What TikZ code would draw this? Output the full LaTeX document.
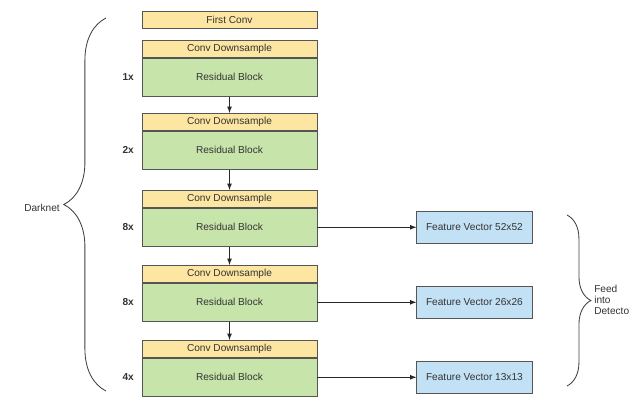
\documentclass[tikz,border=0pt]{standalone}
\usepackage{fontspec}
\setmainfont{Liberation Sans}
\usepackage{tikz}
\usetikzlibrary{positioning,decorations.pathreplacing}

\definecolor{cdyellow}{HTML}{FDE6A2}
\definecolor{rbgreen}{HTML}{C7E4AA}
\definecolor{fvblue}{HTML}{C2E1F5}
\definecolor{edge}{HTML}{555555}

\tikzset{
  box/.style={draw=edge, line width=0.6pt, minimum width=4.375cm, inner sep=0pt,
    font=\fontsize{7.2}{9}\selectfont, text=black!80},
  cdbox/.style={box, fill=cdyellow, minimum height=0.425cm},
  rbbox/.style={box, fill=rbgreen, minimum height=0.95cm},
  fvbox/.style={box, fill=fvblue, minimum width=2.875cm, minimum height=0.8cm},
  times/.style={font=\fontsize{7.2}{9}\selectfont\bfseries, text=black!80},
  plain/.style={font=\fontsize{7.2}{8}\selectfont, text=black!80, align=left, inner sep=0pt},
  flow/.style={->, >=latex, line width=0.6pt, draw=black!85},
  bracket/.style={decorate, line width=0.6pt, draw=black!75}
}

\begin{document}
\begin{tikzpicture}[x=0.025cm, y=-0.025cm]
	\useasboundingbox[fill=white] (0,0) rectangle (630,396);

            \node[cdbox, anchor=north] (first) at (229.5,11) {First Conv};

            \foreach \i/\y/\n in {1/40/1x, 2/113/2x, 3/190/8x, 4/265/8x, 5/340/4x}{
              \node[cdbox, anchor=north] (cd\i) at (229.5,\y) {Conv Downsample};
              \node[rbbox, below=0pt of cd\i] (rb\i) {Residual Block};
              \node[times, left=2pt of rb\i] (n\i) {\n};
            }

            \foreach \i/\j in {1/2,2/3,3/4,4/5}{
              \draw[flow] (rb\i) -- (cd\j);
            }

            \foreach \i/\s in {3/52x52, 4/26x26, 5/13x13}{
              \node[fvbox, right=2.475cm of rb\i] (fv\i) {Feature Vector \s};
              \draw[flow] (rb\i) -- (fv\i);
            }

            % braces
            \coordinate (dtop) at (106,18);
            \coordinate (dbot) at (106,391);
            \draw[bracket, decoration={brace, amplitude=30pt}] (dbot) -- (dtop);
            \node[plain] (darknet) at (42,208) {Darknet};

            \coordinate (ftop) at (567,215);
            \coordinate (fbot) at (567,386);
            \draw[bracket, decoration={brace, amplitude=17pt}] (ftop) -- (fbot);
            \node[plain, anchor=west] (feed) at (594,300) {Feed\\into\\Detecto};
\end{tikzpicture}
\end{document}
